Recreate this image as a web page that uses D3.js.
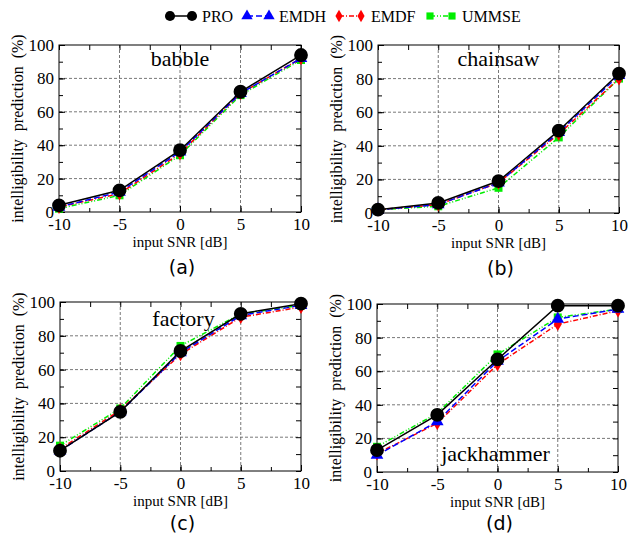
<!DOCTYPE html>
<html>
<head>
<meta charset="utf-8">
<script src="https://cdn.jsdelivr.net/npm/d3@7"></script>
<style>
  body { margin: 0; background: #fff; }
  svg { display: block; }
  .serif { font-family: "Liberation Serif", "Times New Roman", serif; }
</style>
</head>
<body>
<svg id="chart" width="636" height="538"></svg>
<script>
// x categories (input SNR in dB)
const snr = [-10, -5, 0, 5, 10];
const yTicks = [0, 20, 40, 60, 80, 100];
const seriesNames = ["PRO", "EMDH", "EMDF", "UMMSE"];
const noiseTypes = ["babble", "chainsaw", "factory", "jackhammer"];
const panelTags = ["(a)", "(b)", "(c)", "(d)"];

// values, one array per noise type and method
const babblePRO = [4, 13, 37, 72, 94];
const babbleEMDH = [3, 12, 36, 71, 92];
const babbleEMDF = [3, 11, 35, 71, 92];
const babbleUMMSE = [2, 10, 34, 70, 91];

const chainsawPRO = [2, 6, 19, 49, 83];
const chainsawEMDH = [2, 5, 18, 48, 82];
const chainsawEMDF = [2, 5, 18, 47, 80];
const chainsawUMMSE = [2, 4, 15, 45, 80];

const factoryPRO = [12, 35, 71, 93, 99];
const factoryEMDH = [12, 35, 70, 92, 98];
const factoryEMDF = [13, 36, 69, 91, 97];
const factoryUMMSE = [15, 37, 74, 93, 98];

const jackPRO = [13, 34, 67, 99, 99];
const jackEMDH = [10, 30, 66, 91, 97];
const jackEMDF = [11, 29, 64, 88, 96];
const jackUMMSE = [15, 35, 70, 92, 97];

const panelData = [
  [babblePRO, babbleEMDH, babbleEMDF, babbleUMMSE],
  [chainsawPRO, chainsawEMDH, chainsawEMDF, chainsawUMMSE],
  [factoryPRO, factoryEMDH, factoryEMDF, factoryUMMSE],
  [jackPRO, jackEMDH, jackEMDF, jackUMMSE]
];

// styles per series
const styles = {
  PRO:   { color: "#000000", dash: null,          shape: d3.symbolCircle,   size: 150 },
  EMDH:  { color: "#0000ff", dash: "6,3",         shape: d3.symbolTriangle, size: 70 },
  EMDF:  { color: "#ff0000", dash: "5,2,1,2",     shape: d3.symbolDiamond,  size: 55 },
  UMMSE: { color: "#00ee00", dash: "5,2,1,2,1,2", shape: d3.symbolSquare,   size: 64 }
};

// plot frames [left, top, right, bottom]
const frames = [
  [59, 45, 301, 212],
  [378, 45, 619, 213],
  [60, 302, 301, 471],
  [377, 304, 618, 472]
];

const serif = '"Liberation Serif", "Times New Roman", serif';
const svg = d3.select("#chart");
const fmt = d => String(d); // plain hyphen minus like the original

frames.forEach((f, i) => {
  const [l, t, r, b] = f;
  const x = d3.scaleLinear().domain([-10, 10]).range([l, r]);
  const y = d3.scaleLinear().domain([0, 100]).range([b, t]);
  const g = svg.append("g");

  // dashed grid at major ticks
  g.selectAll(".gx").data(snr.slice(1, -1)).join("line")
    .attr("x1", d => x(d)).attr("x2", d => x(d))
    .attr("y1", t).attr("y2", b)
    .attr("stroke", "#555").attr("stroke-width", 0.8).attr("stroke-dasharray", "3,2");
  g.selectAll(".gy").data(yTicks.slice(1, -1)).join("line")
    .attr("y1", d => y(d)).attr("y2", d => y(d))
    .attr("x1", l).attr("x2", r)
    .attr("stroke", "#555").attr("stroke-width", 0.8).attr("stroke-dasharray", "3,2");

  // axes with inward ticks
  const xAxis = d3.axisBottom(x).tickValues(snr).tickSize(-6).tickPadding(6).tickFormat(fmt);
  const xMinor = d3.axisBottom(x).tickValues(d3.range(-10, 10.1, 2.5)).tickSize(-4).tickFormat("");
  const yAxis = d3.axisLeft(y).tickValues(yTicks).tickSize(-6).tickPadding(5).tickFormat(fmt);
  const yMinor = d3.axisLeft(y).tickValues(d3.range(0, 101, 10)).tickSize(-4).tickFormat("");
  const xTop = d3.axisTop(x).tickValues(d3.range(-10, 10.1, 2.5)).tickSize(-5).tickFormat("");
  const yRight = d3.axisRight(y).tickValues(d3.range(0, 101, 10)).tickSize(-5).tickFormat("");

  [[xMinor, `translate(0,${b})`], [xTop, `translate(0,${t})`],
   [yMinor, `translate(${l},0)`], [yRight, `translate(${r},0)`],
   [xAxis, `translate(0,${b})`], [yAxis, `translate(${l},0)`]].forEach(([ax, tr]) => {
    const a = g.append("g").attr("transform", tr).call(ax)
      .attr("font-family", null).attr("font-size", null);
    a.select(".domain").remove();
    a.selectAll("line").attr("stroke", "#000");
    a.selectAll("text").style("font-family", serif).style("font-size", "17px").attr("fill", "#000");
  });

  // frame
  g.append("rect").attr("x", l).attr("y", t).attr("width", r - l).attr("height", b - t)
    .attr("fill", "none").attr("stroke", "#000").attr("stroke-width", 1);

  // series, drawn so PRO ends up on top
  const order = [3, 2, 1, 0];
  order.forEach(k => {
    const name = seriesNames[k];
    const s = styles[name];
    const vals = panelData[i][k];
    const line = d3.line().x((d, j) => x(snr[j])).y(d => y(d));
    g.append("path").datum(vals).attr("d", line)
      .attr("fill", "none").attr("stroke", s.color).attr("stroke-width", 1.5)
      .attr("stroke-dasharray", s.dash);
    g.selectAll(null).data(vals).join("path")
      .attr("transform", (d, j) => `translate(${x(snr[j])},${y(d)})`)
      .attr("d", d3.symbol(s.shape, s.size))
      .attr("fill", s.color);
  });

  // noise type title
  const titleY = [t + 21, t + 21, t + 24, b - 11][i];
  g.append("text").attr("x", (l + r) / 2 + [0, 0, 3, -2][i]).attr("y", titleY)
    .attr("text-anchor", "middle").style("font-family", serif).style("font-size", "22px")
    .text(noiseTypes[i]);

  // axis labels
  g.append("text").attr("x", (l + r) / 2).attr("y", b + 35)
    .attr("text-anchor", "middle").style("font-family", serif).style("font-size", "15px")
    .text("input SNR [dB]");
  g.append("text")
    .attr("transform", `translate(${l - 36},${(t + b) / 2}) rotate(-90)`)
    .attr("text-anchor", "middle").style("font-family", serif).style("font-size", "16px")
    .style("white-space", "pre")
    .text("intelligibility  prediction  (%)");

  // panel tag
  g.append("text").attr("x", (l + r) / 2 + 2).attr("y", b + [62, 62, 59, 58][i])
    .attr("text-anchor", "middle").style("font-family", "'DejaVu Sans', sans-serif").style("font-size", "19px")
    .text(panelTags[i]);
});

// legend
const legendX = [170, 247, 339, 430];
const lg = svg.append("g");
seriesNames.forEach((name, k) => {
  const s = styles[name];
  const x0 = legendX[k], x1 = x0 + 22, yy = 16;
  lg.append("line").attr("x1", x0).attr("x2", x1).attr("y1", yy).attr("y2", yy)
    .attr("stroke", s.color).attr("stroke-width", 1.5).attr("stroke-dasharray", s.dash);
  [x0, x1].forEach(px => {
    lg.append("path").attr("transform", `translate(${px},${yy})`)
      .attr("d", d3.symbol(s.shape, name === "PRO" ? 80 : s.size * 0.8)).attr("fill", s.color);
  });
  lg.append("text").attr("x", x1 + 10).attr("y", yy + 5.5)
    .style("font-family", serif).style("font-size", "16px").text(name);
});
</script>
</body>
</html>
